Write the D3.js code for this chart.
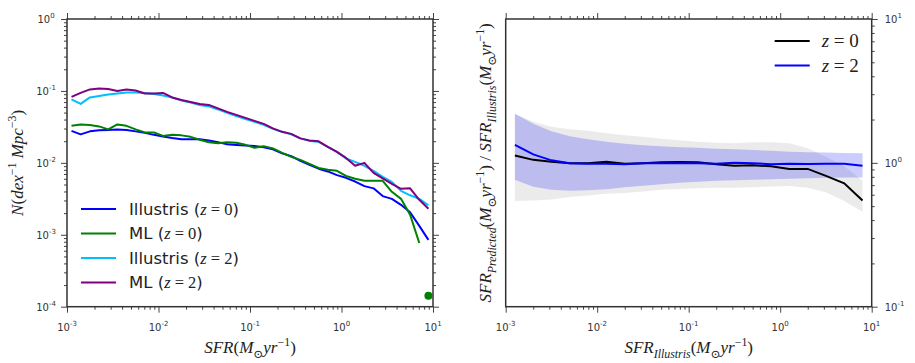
<!DOCTYPE html>
<html>
<head>
<meta charset="utf-8">
<script src="https://cdn.jsdelivr.net/npm/d3@7"></script>
<style>
  body { margin: 0; background: #fff; }
  .tick line { stroke: #444; }
</style>
</head>
<body>
<div id="chart"></div>
<script>
// ---- Left panel: SFR function N(dex^-1 Mpc^-3) ----
var sfrBins = [0.00112, 0.00141, 0.00178, 0.00224, 0.00282, 0.00355, 0.00447, 0.00562, 0.00708, 0.00891,
    0.0112, 0.0141, 0.0178, 0.0224, 0.0282, 0.0355, 0.0447, 0.0562, 0.0708, 0.0891,
    0.112, 0.141, 0.178, 0.224, 0.282, 0.355, 0.447, 0.562, 0.708, 0.891,
    1.12, 1.41, 1.78, 2.24, 2.82, 3.55, 4.47, 5.62, 7.08, 8.91];

var illustrisZ0 = [0.0278, 0.0249, 0.0274, 0.0283, 0.0287, 0.0292, 0.0287, 0.0274, 0.0261, 0.0245,
    0.0233, 0.0222, 0.0213, 0.0213, 0.0213, 0.0205, 0.0194, 0.0181, 0.0177, 0.0174,
    0.0171, 0.0165, 0.0154, 0.0136, 0.0124, 0.0107, 0.0094, 0.0083, 0.0076, 0.00675,
    0.00619, 0.00550, 0.00475, 0.00442, 0.00345, 0.00316, 0.00261, 0.00205, 0.00133, 0.00085];

var mlZ0 = [0.0327, 0.0342, 0.0337, 0.0321, 0.0292, 0.0342, 0.0327, 0.0292, 0.0265, 0.0265,
    0.0237, 0.0245, 0.0241, 0.0230, 0.0209, 0.0193, 0.0187, 0.0193, 0.0190, 0.0178,
    0.0162, 0.0170, 0.0159, 0.0138, 0.0121, 0.0110, 0.0097, 0.0085, 0.0080, 0.00774,
    0.00660, 0.00600, 0.00562, 0.00562, 0.00562, 0.00396, 0.00316, 0.00190, 0.00077];

// lone ML z=0 bin at the high-SFR end
var mlZ0Point = [8.91, 0.000142];

var illustrisZ2 = [0.0762, 0.0660, 0.0812, 0.0852, 0.0894, 0.0923, 0.0953, 0.0953, 0.0938, 0.0908,
    0.0866, 0.0812, 0.0738, 0.0692, 0.0639, 0.0609, 0.0553, 0.0495, 0.0449, 0.0408,
    0.0371, 0.0337, 0.0297, 0.0270, 0.0249, 0.0219, 0.0202, 0.0196, 0.0167, 0.0142,
    0.0115, 0.0103, 0.0091, 0.00774, 0.00639, 0.00544, 0.00408, 0.00354, 0.00316, 0.00257];

var mlZ2 = [0.0825, 0.0938, 0.1049, 0.1083, 0.1066, 0.1000, 0.1049, 0.1016, 0.0923, 0.0923,
    0.0938, 0.0812, 0.0750, 0.0703, 0.0660, 0.0639, 0.0571, 0.0511, 0.0464, 0.0422,
    0.0383, 0.0348, 0.0301, 0.0270, 0.0253, 0.0219, 0.0205, 0.0199, 0.0167, 0.0142,
    0.0117, 0.0091, 0.0100, 0.00726, 0.00609, 0.00511, 0.00435, 0.00442, 0.00306, 0.00230];

// ---- Right panel: SFR_predicted / SFR_illustris ----
var ratioBins = [0.00126, 0.00200, 0.00316, 0.00501, 0.00794, 0.0126, 0.0200, 0.0316, 0.0501, 0.0794,
    0.126, 0.200, 0.316, 0.501, 0.794, 1.26, 2.00, 3.16, 5.01, 7.94];

var ratioZ0 = [1.124, 1.049, 1.016, 0.992, 0.992, 1.019, 0.987, 0.995, 1.008, 1.013,
    1.008, 0.976, 0.953, 0.961, 0.946, 0.908, 0.908, 0.812, 0.720, 0.548];
var ratioZ0Hi = [2.192, 1.928, 1.780, 1.710, 1.669, 1.604, 1.553, 1.516, 1.469, 1.434,
    1.400, 1.378, 1.371, 1.393, 1.393, 1.366, 1.261, 1.101, 0.946, 0.750];
var ratioZ0Lo = [0.544, 0.548, 0.557, 0.580, 0.594, 0.609, 0.618, 0.633, 0.649, 0.659,
    0.667, 0.672, 0.670, 0.678, 0.684, 0.689, 0.670, 0.624, 0.544, 0.456];

var ratioZ2 = [1.334, 1.146, 1.041, 0.992, 0.984, 0.984, 0.979, 0.992, 0.995, 0.995,
    0.992, 0.987, 1.000, 0.995, 0.979, 0.984, 0.981, 0.984, 0.987, 0.953];
var ratioZ2Hi = [2.192, 1.867, 1.656, 1.529, 1.457, 1.400, 1.356, 1.323, 1.302, 1.286,
    1.271, 1.255, 1.241, 1.227, 1.212, 1.196, 1.187, 1.179, 1.170, 1.168];
var ratioZ2Lo = [0.762, 0.681, 0.649, 0.639, 0.644, 0.656, 0.676, 0.692, 0.709, 0.726,
    0.738, 0.750, 0.756, 0.762, 0.768, 0.774, 0.780, 0.787, 0.790, 0.790];

var xTicks = [1e-3, 1e-2, 1e-1, 1e0, 1e1];
var xTickLabels = ["-3", "-2", "-1", "0", "1"];
var leftYTicks = [1e-4, 1e-3, 1e-2, 1e-1, 1e0];
var leftYTickLabels = ["-4", "-3", "-2", "-1", "0"];
var rightYTicks = [1e-1, 1e0, 1e1];
var rightYTickLabels = ["-1", "0", "1"];

// General chart parameters
var svgWidth = 915;
var svgHeight = 363;
var plotTop = 19;
var plotBottom = 306.7;
var leftPanelX = 67;
var rightPanelX = 505.7;
var panelWidth = 366;
var mathFont = "'Liberation Serif', 'DejaVu Serif', serif";
var sansFont = "'DejaVu Sans', sans-serif";

var svg = d3.select("#chart")
    .append("svg")
    .attr("width", svgWidth)
    .attr("height", svgHeight)
    .style("font-family", sansFont);

// minor ticks 2..9 for each decade
function minorTicks(lo, hi) {
    var out = [];
    for (var e = lo; e < hi; e++) {
        for (var m = 2; m < 10; m++) out.push(m * Math.pow(10, e));
    }
    return out;
}

// text with italic parts, superscripts and subscripts
function richText(sel, parts, size) {
    var cur = 0;
    parts.forEach(function (p) {
        var target = p.s === "sup" ? -0.42 * size : (p.s === "sub" ? 0.28 * size : 0);
        sel.append("tspan")
            .attr("dy", target - cur)
            .attr("font-size", p.s ? size * 0.7 : size)
            .attr("font-style", p.i ? "italic" : "normal")
            .attr("font-family", p.f || mathFont)
            .text(p.t);
        cur = target;
    });
    return sel;
}

function powerLabel(sel, exp) {
    sel.append("tspan").text("10");
    sel.append("tspan").attr("dy", -5).attr("font-size", 7).text(exp);
}

function drawAxis(g, axisFn, scale, majors, minors, transform) {
    g.append("g")
        .attr("transform", transform)
        .call(axisFn(scale).tickValues(minors).tickSize(3).tickSizeOuter(0).tickFormat(""))
        .call(function (a) { a.select(".domain").remove(); });
    g.append("g")
        .attr("transform", transform)
        .call(axisFn(scale).tickValues(majors).tickSize(6).tickSizeOuter(0).tickFormat(""))
        .call(function (a) { a.select(".domain").remove(); });
}

function panel(x0) {
    var g = svg.append("g").attr("transform", `translate(${x0}, ${plotTop})`);
    return g;
}

var plotHeight = plotBottom - plotTop;

// =============== LEFT PANEL ===============
var xLeft = d3.scaleLog().domain([1e-3, 10]).range([0, panelWidth]);
var yLeft = d3.scaleLog().domain([1e-4, 1]).range([plotHeight, 0]);
var gL = panel(leftPanelX);

var lineL = d3.line()
    .x(function (d) { return xLeft(d[0]); })
    .y(function (d) { return yLeft(d[1]); });

var leftSeries = [
    { name: "Illustris", z: "0", values: illustrisZ0, color: "#0000ff" },
    { name: "ML", z: "0", values: mlZ0, color: "#008000" },
    { name: "Illustris", z: "2", values: illustrisZ2, color: "#00bfff" },
    { name: "ML", z: "2", values: mlZ2, color: "#800080" }
];

leftSeries.forEach(function (s) {
    gL.append("path")
        .datum(s.values.map(function (v, i) { return [sfrBins[i], v]; }))
        .attr("d", lineL)
        .attr("fill", "none")
        .attr("stroke", s.color)
        .attr("stroke-width", 2)
        .attr("stroke-linejoin", "round");
});

gL.append("circle")
    .attr("cx", xLeft(mlZ0Point[0]))
    .attr("cy", yLeft(mlZ0Point[1]))
    .attr("r", 4)
    .attr("fill", "#008000");

drawAxis(gL, d3.axisBottom, xLeft, xTicks, minorTicks(-3, 1), `translate(0, ${plotHeight})`);
drawAxis(gL, d3.axisTop, xLeft, xTicks, minorTicks(-3, 1), "translate(0, 0)");
drawAxis(gL, d3.axisLeft, yLeft, leftYTicks, minorTicks(-4, 0), "translate(0, 0)");
drawAxis(gL, d3.axisRight, yLeft, leftYTicks, minorTicks(-4, 0), `translate(${panelWidth}, 0)`);

gL.append("rect")
    .attr("width", panelWidth)
    .attr("height", plotHeight)
    .attr("fill", "none")
    .attr("stroke", "#333")
    .attr("stroke-width", 1.5);

xTicks.forEach(function (t, i) {
    var lab = gL.append("text")
        .attr("x", xLeft(t))
        .attr("y", plotHeight + 24)
        .attr("text-anchor", "middle")
        .attr("font-size", 10)
        .attr("fill", "#333");
    powerLabel(lab, xTickLabels[i]);
});

leftYTicks.forEach(function (t, i) {
    var lab = gL.append("text")
        .attr("x", -21)
        .attr("y", yLeft(t) + 4)
        .attr("text-anchor", "middle")
        .attr("font-size", 10)
        .attr("fill", "#333");
    powerLabel(lab, leftYTickLabels[i]);
});

// legend
var legL = gL.append("g").attr("transform", "translate(14, 190)");
leftSeries.forEach(function (s, i) {
    var yy = i * 24.5;
    legL.append("line")
        .attr("x1", 0).attr("x2", 35)
        .attr("y1", yy).attr("y2", yy)
        .attr("stroke", s.color)
        .attr("stroke-width", 2);
    var t = legL.append("text")
        .attr("x", 48)
        .attr("y", yy + 5.5)
        .attr("fill", "#222");
    richText(t, [
        { t: s.name + " (", f: sansFont },
        { t: "z", i: true },
        { t: " = " + s.z },
        { t: ")", f: sansFont }
    ], 16.5);
});

// axis labels
var xlabL = svg.append("text")
    .attr("x", leftPanelX + panelWidth / 2)
    .attr("y", 353)
    .attr("text-anchor", "middle")
    .attr("fill", "#222");
richText(xlabL, [
    { t: "SFR", i: true }, { t: "(" }, { t: "M", i: true }, { t: "⊙", s: "sub" },
    { t: "yr", i: true }, { t: "−1", s: "sup" }, { t: ")" }
], 17);

var ylabL = svg.append("text")
    .attr("transform", `translate(23, ${(plotTop + plotBottom) / 2}) rotate(-90)`)
    .attr("text-anchor", "middle")
    .attr("fill", "#222");
richText(ylabL, [
    { t: "N", i: true }, { t: "(" }, { t: "dex", i: true }, { t: "−1", s: "sup" },
    { t: " Mpc", i: true }, { t: "−3", s: "sup" }, { t: ")" }
], 17);

// =============== RIGHT PANEL ===============
var xRight = d3.scaleLog().domain([1e-3, 10]).range([0, panelWidth]);
var yRight = d3.scaleLog().domain([1e-1, 10]).range([plotHeight, 0]);
var gR = panel(rightPanelX);

var area = function (hi, lo) {
    return d3.area()
        .x(function (d, i) { return xRight(ratioBins[i]); })
        .y0(function (d, i) { return yRight(lo[i]); })
        .y1(function (d, i) { return yRight(hi[i]); })(ratioBins);
};

gR.append("path")
    .attr("d", area(ratioZ0Hi, ratioZ0Lo))
    .attr("fill", "#000")
    .attr("fill-opacity", 0.08);

gR.append("path")
    .attr("d", area(ratioZ2Hi, ratioZ2Lo))
    .attr("fill", "#0000ff")
    .attr("fill-opacity", 0.2);

var lineR = d3.line()
    .x(function (d, i) { return xRight(ratioBins[i]); })
    .y(function (d) { return yRight(d); });

gR.append("path")
    .datum(ratioZ0)
    .attr("d", lineR)
    .attr("fill", "none")
    .attr("stroke", "#000")
    .attr("stroke-width", 2);

gR.append("path")
    .datum(ratioZ2)
    .attr("d", lineR)
    .attr("fill", "none")
    .attr("stroke", "#0000ff")
    .attr("stroke-width", 2);

drawAxis(gR, d3.axisBottom, xRight, xTicks, minorTicks(-3, 1), `translate(0, ${plotHeight})`);
drawAxis(gR, d3.axisTop, xRight, xTicks, minorTicks(-3, 1), "translate(0, 0)");
drawAxis(gR, d3.axisRight, yRight, rightYTicks, minorTicks(-1, 1), `translate(${panelWidth}, 0)`);

gR.append("rect")
    .attr("width", panelWidth)
    .attr("height", plotHeight)
    .attr("fill", "none")
    .attr("stroke", "#333")
    .attr("stroke-width", 1.5);

xTicks.forEach(function (t, i) {
    var lab = gR.append("text")
        .attr("x", xRight(t))
        .attr("y", plotHeight + 24)
        .attr("text-anchor", "middle")
        .attr("font-size", 10)
        .attr("fill", "#333");
    powerLabel(lab, xTickLabels[i]);
});

rightYTicks.forEach(function (t, i) {
    var lab = gR.append("text")
        .attr("x", panelWidth + 13)
        .attr("y", yRight(t) + 4)
        .attr("text-anchor", "start")
        .attr("font-size", 10)
        .attr("fill", "#333");
    powerLabel(lab, rightYTickLabels[i]);
});

// legend
var legR = gR.append("g").attr("transform", "translate(269, 22)");
[{ z: "0", color: "#000" }, { z: "2", color: "#0000ff" }].forEach(function (s, i) {
    var yy = i * 24.5;
    legR.append("line")
        .attr("x1", 0).attr("x2", 35)
        .attr("y1", yy).attr("y2", yy)
        .attr("stroke", s.color)
        .attr("stroke-width", 2);
    var t = legR.append("text")
        .attr("x", 47)
        .attr("y", yy + 6)
        .attr("fill", "#222");
    richText(t, [{ t: "z", i: true }, { t: " = " + s.z }], 19);
});

var xlabR = svg.append("text")
    .attr("x", rightPanelX + panelWidth / 2)
    .attr("y", 353)
    .attr("text-anchor", "middle")
    .attr("fill", "#222");
richText(xlabR, [
    { t: "SFR", i: true }, { t: "Illustris", i: true, s: "sub" }, { t: "(" }, { t: "M", i: true },
    { t: "⊙", s: "sub" }, { t: "yr", i: true }, { t: "−1", s: "sup" }, { t: ")" }
], 17);

var ylabR = svg.append("text")
    .attr("transform", `translate(491, ${(plotTop + plotBottom) / 2}) rotate(-90)`)
    .attr("text-anchor", "middle")
    .attr("fill", "#222");
richText(ylabR, [
    { t: "SFR", i: true }, { t: "Predicted", i: true, s: "sub" }, { t: "(" }, { t: "M", i: true },
    { t: "⊙", s: "sub" }, { t: "yr", i: true }, { t: "−1", s: "sup" }, { t: ")" },
    { t: " / " },
    { t: "SFR", i: true }, { t: "Illustris", i: true, s: "sub" }, { t: "(" }, { t: "M", i: true },
    { t: "⊙", s: "sub" }, { t: "yr", i: true }, { t: "−1", s: "sup" }, { t: ")" }
], 17);
</script>
</body>
</html>
